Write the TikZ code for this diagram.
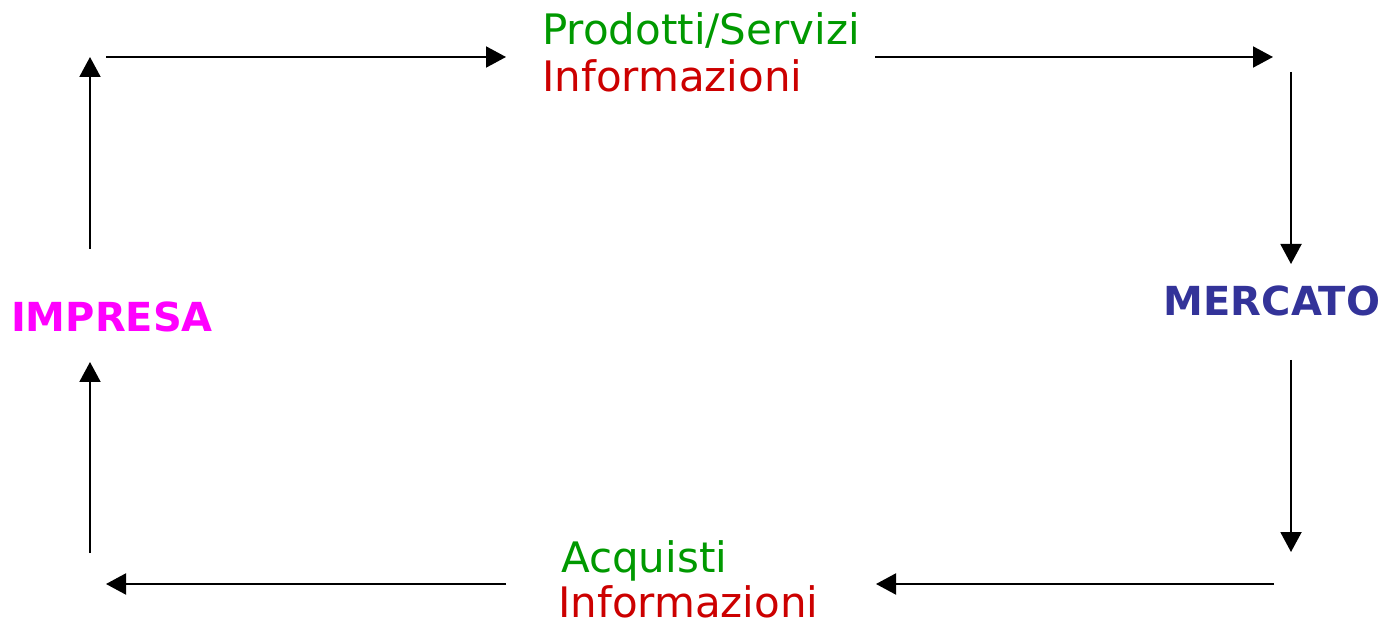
\documentclass[tikz,border=0pt]{standalone}
\usepackage{fontspec}
\setmainfont{DejaVu Sans}
\usetikzlibrary{arrows.meta}
\definecolor{vgreen}{RGB}{0,153,0}
\definecolor{vred}{RGB}{204,0,0}
\definecolor{vmag}{RGB}{255,0,255}
\definecolor{vblue}{RGB}{51,51,153}
\begin{document}
\begin{tikzpicture}[x=1pt,y=-1pt,
  flow/.style={line width=2pt,-{Triangle[length=20pt,width=21pt]}},
  lbl/.style={anchor=base west,inner sep=0pt,font=\fontsize{42}{48}\selectfont},
  big/.style={inner sep=0pt,font=\fontsize{40}{46}\selectfont\bfseries}]
\useasboundingbox (0,0) rectangle (1385,628);
% labels
\node[lbl,text=vgreen] (ps) at (542,45) {Prodotti/Servizi};
\node[lbl,text=vred] (inf1) at (542,92) {Informazioni};
\node[lbl,text=vgreen] (acq) at (561,572) {Acquisti};
\node[lbl,text=vred] (inf2) at (558,617) {Informazioni};
\node[big,text=vmag] (imp) at (112,317) {IMPRESA};
\node[big,text=vblue] (mer) at (1272,301) {MERCATO};
% arrow endpoints
\coordinate (a1s) at (106,57);  \coordinate (a1e) at (506,57);
\coordinate (a2s) at (875,57);  \coordinate (a2e) at (1273,57);
\coordinate (a3s) at (1291,72); \coordinate (a3e) at (1291,264);
\coordinate (a4s) at (1291,360);\coordinate (a4e) at (1291,552);
\coordinate (a5s) at (1274,584);\coordinate (a5e) at (876,584);
\coordinate (a6s) at (506,584); \coordinate (a6e) at (106,584);
\coordinate (a7s) at (90,553);  \coordinate (a7e) at (90,362);
\coordinate (a8s) at (90,249);  \coordinate (a8e) at (90,57);
\draw[flow] (a1s) -- (a1e);
\draw[flow] (a2s) -- (a2e);
\draw[flow] (a3s) -- (a3e);
\draw[flow] (a4s) -- (a4e);
\draw[flow] (a5s) -- (a5e);
\draw[flow] (a6s) -- (a6e);
\draw[flow] (a7s) -- (a7e);
\draw[flow] (a8s) -- (a8e);
\end{tikzpicture}
\end{document}
